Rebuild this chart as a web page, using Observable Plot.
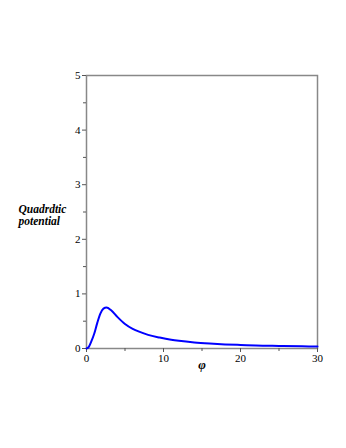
<!DOCTYPE html>
<html>
<head>
<meta charset="utf-8">
<script src="https://cdn.jsdelivr.net/npm/d3@7"></script>
<script src="https://cdn.jsdelivr.net/npm/@observablehq/plot@0.6"></script>
<style>
  html, body { margin: 0; padding: 0; background: #fff; }
  svg text { font-family: "Liberation Serif", "Times New Roman", serif; }
</style>
</head>
<body>
<div id="chart"></div>
<script>
const phi = [0, 0.3, 0.6, 1, 1.4, 1.8, 2.2, 2.6, 3.2, 4, 5, 6, 7, 8, 9.5, 11, 12, 14, 16, 18, 20, 22, 25, 28, 30];
const potential = [0, 0.03, 0.12, 0.27, 0.47, 0.64, 0.73, 0.75, 0.70, 0.58, 0.45, 0.36, 0.30, 0.25, 0.20, 0.16, 0.14, 0.11, 0.09, 0.075, 0.065, 0.055, 0.047, 0.04, 0.037];
const xTicks = [0, 10, 20, 30];
const xMinor = [5, 15, 25];
const yTicks = [0, 1, 2, 3, 4, 5];
const yMinor = [0.5, 1.5, 2.5, 3.5, 4.5];
const yLabel = "Quadrdtic\npotential";
const xLabel = "φ";

const data = phi.map((p, i) => ({phi: p, v: potential[i]}));
const serif = "'Liberation Serif', 'Times New Roman', serif";

const chart = Plot.plot({
  width: 346,
  height: 448,
  marginLeft: 86,
  marginRight: 29,
  marginTop: 75,
  marginBottom: 100,
  style: {fontFamily: serif, fontSize: "11px", color: "#000", background: "#fff"},
  x: {domain: [0, 30]},
  y: {domain: [0, 5]},
  marks: [
    Plot.frame({stroke: "#888", strokeWidth: 1.5}),
    Plot.axisX({ticks: xTicks, tickSize: 4, tickPadding: 2, stroke: "#555", label: null, tickFormat: d => d, fontSize: 11, fontFamily: serif}),
    Plot.axisX({ticks: xMinor, tickSize: 3, text: null, stroke: "#555", label: null}),
    Plot.axisY({ticks: yTicks, tickSize: 4, tickPadding: 2, stroke: "#555", label: null, tickFormat: d => d, fontSize: 11, fontFamily: serif}),
    Plot.axisY({ticks: yMinor, tickSize: 3, text: null, stroke: "#555", label: null}),
    Plot.line(data, {x: "phi", y: "v", stroke: "#0000ff", strokeWidth: 2, curve: "monotone-x"}),
    Plot.text([yLabel], {frameAnchor: "left", dx: -68, dy: 3, textAnchor: "start", fontWeight: "bold", fontStyle: "italic", fontSize: 11.5, lineHeight: 1.05, fill: "#000", fontFamily: serif}),
    Plot.text([xLabel], {frameAnchor: "bottom", dy: 20, fontWeight: "bold", fontStyle: "italic", fontSize: 13, fill: "#000", fontFamily: serif})
  ]
});
document.getElementById("chart").appendChild(chart);
</script>
</body>
</html>
